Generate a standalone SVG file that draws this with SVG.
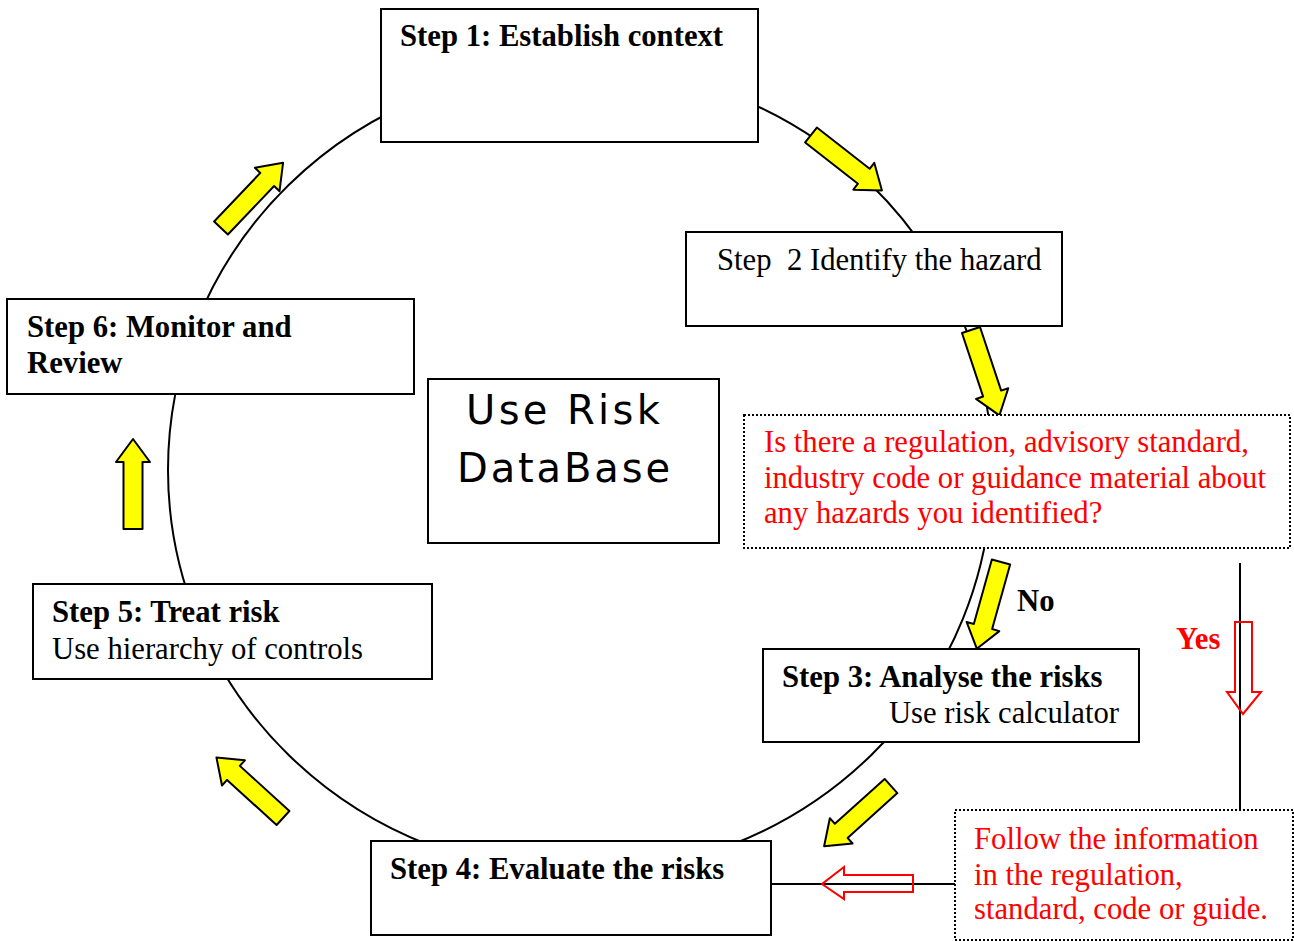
<svg xmlns="http://www.w3.org/2000/svg" xmlns:xlink="http://www.w3.org/1999/xlink" width="1294" height="941" viewBox="0 0 1294 941">
  <style>
    .box { fill: #fff; stroke: #000; stroke-width: 2; }
    .dotbox { fill: #fff; stroke: #000; stroke-width: 2; stroke-dasharray: 2 2; }
    .t { font-family: "Liberation Serif", "Times New Roman", serif; font-size: 30.7px; fill: #000; }
    .b { font-weight: bold; }
    .red { fill: #ff0000; }
    .db { font-family: "DejaVu Sans", "Liberation Sans", sans-serif; font-size: 40px; fill: #000; }
    .yarrow { fill: #ffff00; stroke: #000; stroke-width: 2; stroke-linejoin: round; }
    .rarrow { fill: none; stroke: #ff0000; stroke-width: 2; }
    .line { fill: none; stroke: #000; stroke-width: 2; }
  </style>
  <defs>
    <!-- block arrow pointing right, tail at origin, length 90 -->
    <path id="blk" d="M0,-9.5 L67,-9.5 L67,-17 L90,0 L67,17 L67,9.5 L0,9.5 Z"/>
  </defs>

  <rect width="1294" height="941" fill="#fff"/>

  <!-- the cycle -->
  <g id="cycle">
    <ellipse class="line" cx="580" cy="470" rx="412" ry="403"/>
  </g>

  <g id="connectors">
    <line class="line" x1="1240" y1="563" x2="1240" y2="810"/>
    <line class="line" x1="772" y1="884" x2="955" y2="884"/>
    <!-- yellow cycle arrows -->
    <use xlink:href="#blk" class="yarrow" transform="translate(811,135) rotate(38)"/>
    <use xlink:href="#blk" class="yarrow" transform="translate(971,330) rotate(71.6)"/>
    <use xlink:href="#blk" class="yarrow" transform="translate(1001,562) rotate(105.6)"/>
    <use xlink:href="#blk" class="yarrow" transform="translate(891,786) rotate(138)"/>
    <use xlink:href="#blk" class="yarrow" transform="translate(283,818) rotate(-137.7)"/>
    <use xlink:href="#blk" class="yarrow" transform="translate(133,529) rotate(-90)"/>
    <use xlink:href="#blk" class="yarrow" transform="translate(221,228) rotate(-46.4)"/>
    <!-- red outline arrows -->
    <path class="rarrow" d="M1235,622 L1252,622 L1252,692 L1261,692 L1243,714 L1227,692 L1235,692 Z"/>
    <path class="rarrow" d="M913,875 L913,892 L844,892 L844,899 L822,884 L844,867 L844,875 Z"/>
    <text class="t b" x="1017" y="611">No</text>
    <text class="t b red" x="1176" y="649">Yes</text>
  </g>

  <g id="step1">
    <rect class="box" x="381" y="9" width="377" height="133"/>
    <text class="t b" x="400" y="46">Step 1: Establish context</text>
  </g>

  <g id="step2">
    <rect class="box" x="686" y="232" width="376" height="94"/>
    <text class="t" x="717" y="270" xml:space="preserve">Step  2 Identify the hazard</text>
  </g>

  <g id="question">
    <rect class="dotbox" x="744" y="415" width="546" height="133"/>
    <text class="t red" x="764" y="452">Is there a regulation, advisory standard,</text>
    <text class="t red" x="764" y="488">industry code or guidance material about</text>
    <text class="t red" x="764" y="523">any hazards you identified?</text>
  </g>

  <g id="step3">
    <rect class="box" x="763" y="649" width="376" height="93"/>
    <text class="t b" x="782" y="687">Step 3: Analyse the risks</text>
    <text class="t" x="1119" y="723" text-anchor="end">Use risk calculator</text>
  </g>

  <g id="follow">
    <rect class="dotbox" x="955" y="810" width="338" height="130"/>
    <text class="t red" x="974" y="849">Follow the information</text>
    <text class="t red" x="974" y="885">in the regulation,</text>
    <text class="t red" x="974" y="919">standard, code or guide.</text>
  </g>

  <g id="step4">
    <rect class="box" x="371" y="841" width="400" height="94"/>
    <text class="t b" x="390" y="879">Step 4: Evaluate the risks</text>
  </g>

  <g id="step5">
    <rect class="box" x="33" y="584" width="399" height="95"/>
    <text class="t b" x="52" y="622">Step 5: Treat risk</text>
    <text class="t" x="52" y="659">Use hierarchy of controls</text>
  </g>

  <g id="step6">
    <rect class="box" x="7" y="299" width="407" height="95"/>
    <text class="t b" x="27" y="337">Step 6: Monitor and</text>
    <text class="t b" x="27" y="373">Review</text>
  </g>

  <g id="database">
    <rect class="box" x="428" y="379" width="291" height="164"/>
    <text class="db" x="466" y="424" textLength="194" lengthAdjust="spacing">Use Risk</text>
    <text class="db" x="457" y="482" textLength="213" lengthAdjust="spacing">DataBase</text>
  </g>
</svg>
